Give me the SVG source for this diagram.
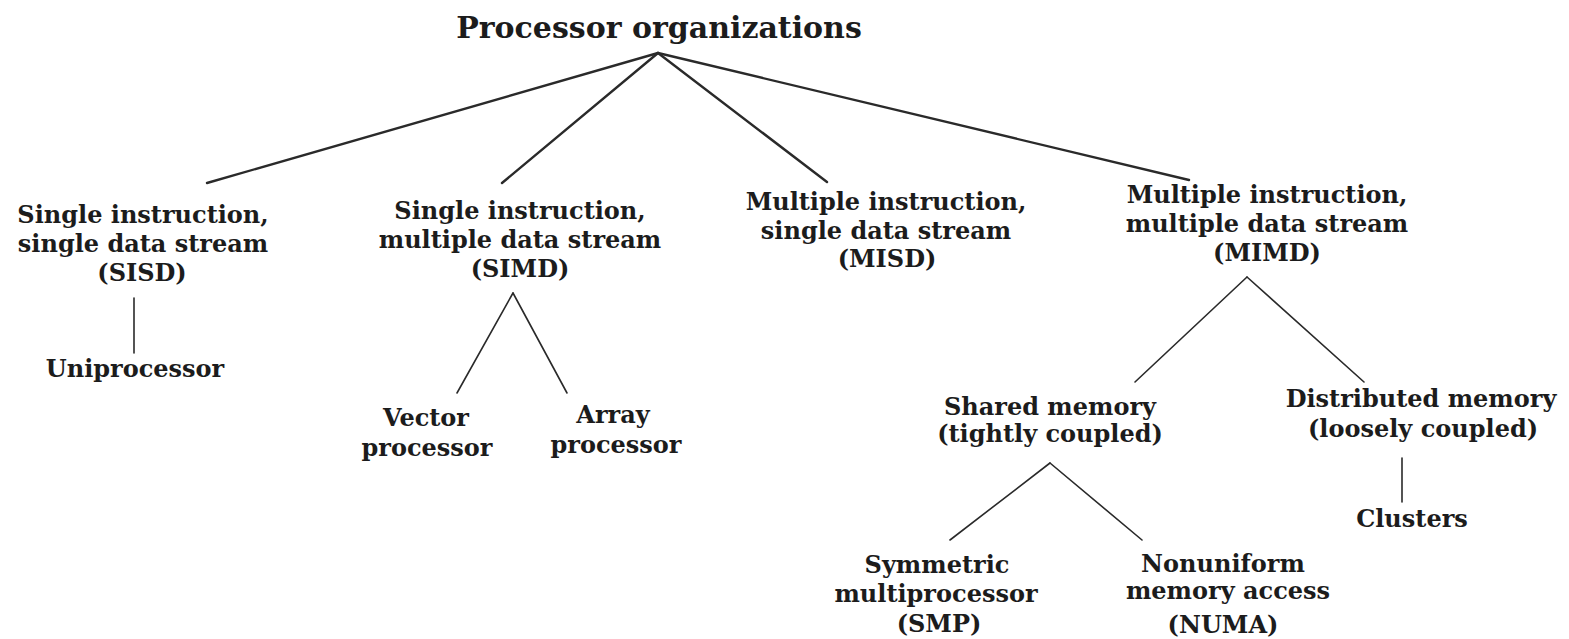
<svg xmlns="http://www.w3.org/2000/svg" width="1569" height="639" viewBox="0 0 1569 639">
<style>
text{font-family:"DejaVu Serif","Liberation Serif",serif;font-weight:bold;fill:#1c1c1c;text-anchor:middle;font-size:24px}
.title{font-size:30px}
.c line{stroke:#2a2a2a;stroke-linecap:round}
.thick{stroke-width:2.4}
.thin{stroke-width:1.6}
</style>
<rect width="1569" height="639" fill="#ffffff"/>
<g class="c" id="connectors">
<line class="thick" x1="658" y1="53" x2="207" y2="183"/>
<line class="thick" x1="658" y1="53" x2="502" y2="183"/>
<line class="thick" x1="658" y1="53" x2="827" y2="182"/>
<line class="thick" x1="658" y1="53" x2="1189" y2="180"/>
<line class="thin" x1="134" y1="298" x2="134" y2="353"/>
<line class="thin" x1="513" y1="293" x2="457" y2="393"/>
<line class="thin" x1="513" y1="293" x2="567" y2="393"/>
<line class="thin" x1="1247" y1="277" x2="1135" y2="382"/>
<line class="thin" x1="1247" y1="277" x2="1364" y2="382"/>
<line class="thin" x1="1050" y1="463" x2="950" y2="540"/>
<line class="thin" x1="1050" y1="463" x2="1142" y2="540"/>
<line class="thin" x1="1402" y1="458" x2="1402" y2="502"/>
</g>
<g id="root"><text class="title" x="659" y="38">Processor organizations</text></g>
<g id="sisd">
<text x="143" y="223">Single instruction,</text>
<text x="143" y="252">single data stream</text>
<text x="142" y="281">(SISD)</text>
</g>
<g id="simd">
<text x="520" y="219">Single instruction,</text>
<text x="520" y="248">multiple data stream</text>
<text x="520" y="277">(SIMD)</text>
</g>
<g id="misd">
<text x="886" y="210">Multiple instruction,</text>
<text x="886" y="239">single data stream</text>
<text x="887" y="267">(MISD)</text>
</g>
<g id="mimd">
<text x="1267" y="203">Multiple instruction,</text>
<text x="1267" y="232">multiple data stream</text>
<text x="1267" y="261">(MIMD)</text>
</g>
<g id="uniprocessor"><text x="135" y="377">Uniprocessor</text></g>
<g id="vector">
<text x="426" y="426">Vector</text>
<text x="427" y="456">processor</text>
</g>
<g id="array">
<text x="613" y="423">Array</text>
<text x="616" y="453">processor</text>
</g>
<g id="shared">
<text x="1050" y="415">Shared memory</text>
<text x="1050" y="442">(tightly coupled)</text>
</g>
<g id="distributed">
<text x="1421" y="407">Distributed memory</text>
<text x="1423" y="437">(loosely coupled)</text>
</g>
<g id="clusters"><text x="1412" y="527">Clusters</text></g>
<g id="smp">
<text x="937" y="573">Symmetric</text>
<text x="936" y="602">multiprocessor</text>
<text x="939" y="632">(SMP)</text>
</g>
<g id="numa">
<text x="1223" y="572">Nonuniform</text>
<text x="1228" y="599">memory access</text>
<text x="1223" y="633">(NUMA)</text>
</g>
</svg>
